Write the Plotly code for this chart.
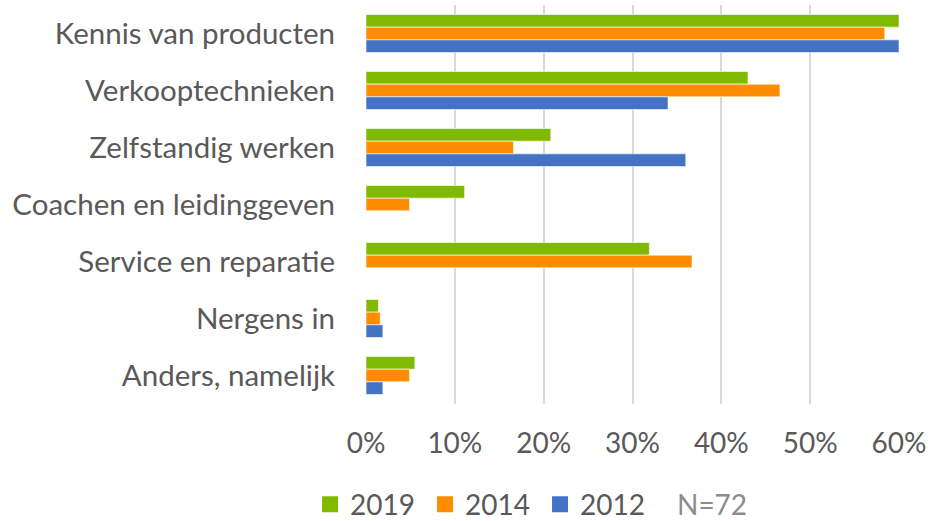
import plotly.graph_objects as go

categories = ["Kennis van producten", "Verkooptechnieken", "Zelfstandig werken",
              "Coachen en leidinggeven", "Service en reparatie", "Nergens in",
              "Anders, namelijk"]
v2019 = [0.600, 0.430, 0.208, 0.111, 0.319, 0.014, 0.055]
v2014 = [0.584, 0.466, 0.166, 0.049, 0.367, 0.016, 0.049]
v2012 = [0.600, 0.340, 0.360, None, None, 0.019, 0.019]
series = [("2019", v2019, "#80BA00"), ("2014", v2014, "#FF8C00"), ("2012", v2012, "#4472C4")]
tick_vals = [0, 0.1, 0.2, 0.3, 0.4, 0.5, 0.6]
tick_text = ["0%", "10%", "20%", "30%", "40%", "50%", "60%"]

FONT = "Lato, Carlito, Calibri, sans-serif"
FS = 28

fig = go.Figure()
for name, vals, col in series:
    fig.add_trace(go.Bar(
        y=categories, x=vals, name=name, orientation="h", showlegend=False,
        marker=dict(color=col, line=dict(color="rgba(255,255,255,0.6)", width=1)),
    ))
# legend entries with larger square swatches
for name, vals, col in series:
    fig.add_trace(go.Scatter(
        x=[None], y=[None], mode="markers", name=name,
        marker=dict(symbol="square", size=18, color=col),
    ))

fig.update_layout(
    width=928, height=521,
    margin=dict(l=366, r=29, t=5, b=117, autoexpand=False),
    paper_bgcolor="white", plot_bgcolor="white",
    barmode="group", bargap=0.333, bargroupgap=0,
    font=dict(family=FONT, color="#595959", size=FS),
    showlegend=True,
    legend=dict(orientation="h", x=-0.105, xanchor="left", y=-0.252, yanchor="middle",
                font=dict(size=FS, color="#595959", family=FONT),
                itemwidth=30, entrywidth=70, entrywidthmode="pixels",
                traceorder="normal", bgcolor="rgba(0,0,0,0)"),
    xaxis=dict(range=[0, 0.6], tickvals=tick_vals, ticktext=tick_text,
               showgrid=True, gridcolor="#D9D9D9", gridwidth=1.5,
               zeroline=False, showline=False, ticks="",
               ticklabelstandoff=20,
               tickfont=dict(size=FS, color="#595959", family=FONT)),
    yaxis=dict(autorange="reversed", showgrid=False, zeroline=False, showline=False,
               ticks="", ticklabelstandoff=30,
               tickfont=dict(size=29.5, color="#595959", family=FONT)),
    annotations=[dict(text="N=72", x=0.649, y=-0.25, xref="paper", yref="paper",
                      xanchor="center", yanchor="middle", showarrow=False,
                      font=dict(size=FS, color="#8C8C8C", family=FONT))],
)

fig.write_html("out.html", config={"displayModeBar": False},
               post_script="document.body.style.margin='0';")
